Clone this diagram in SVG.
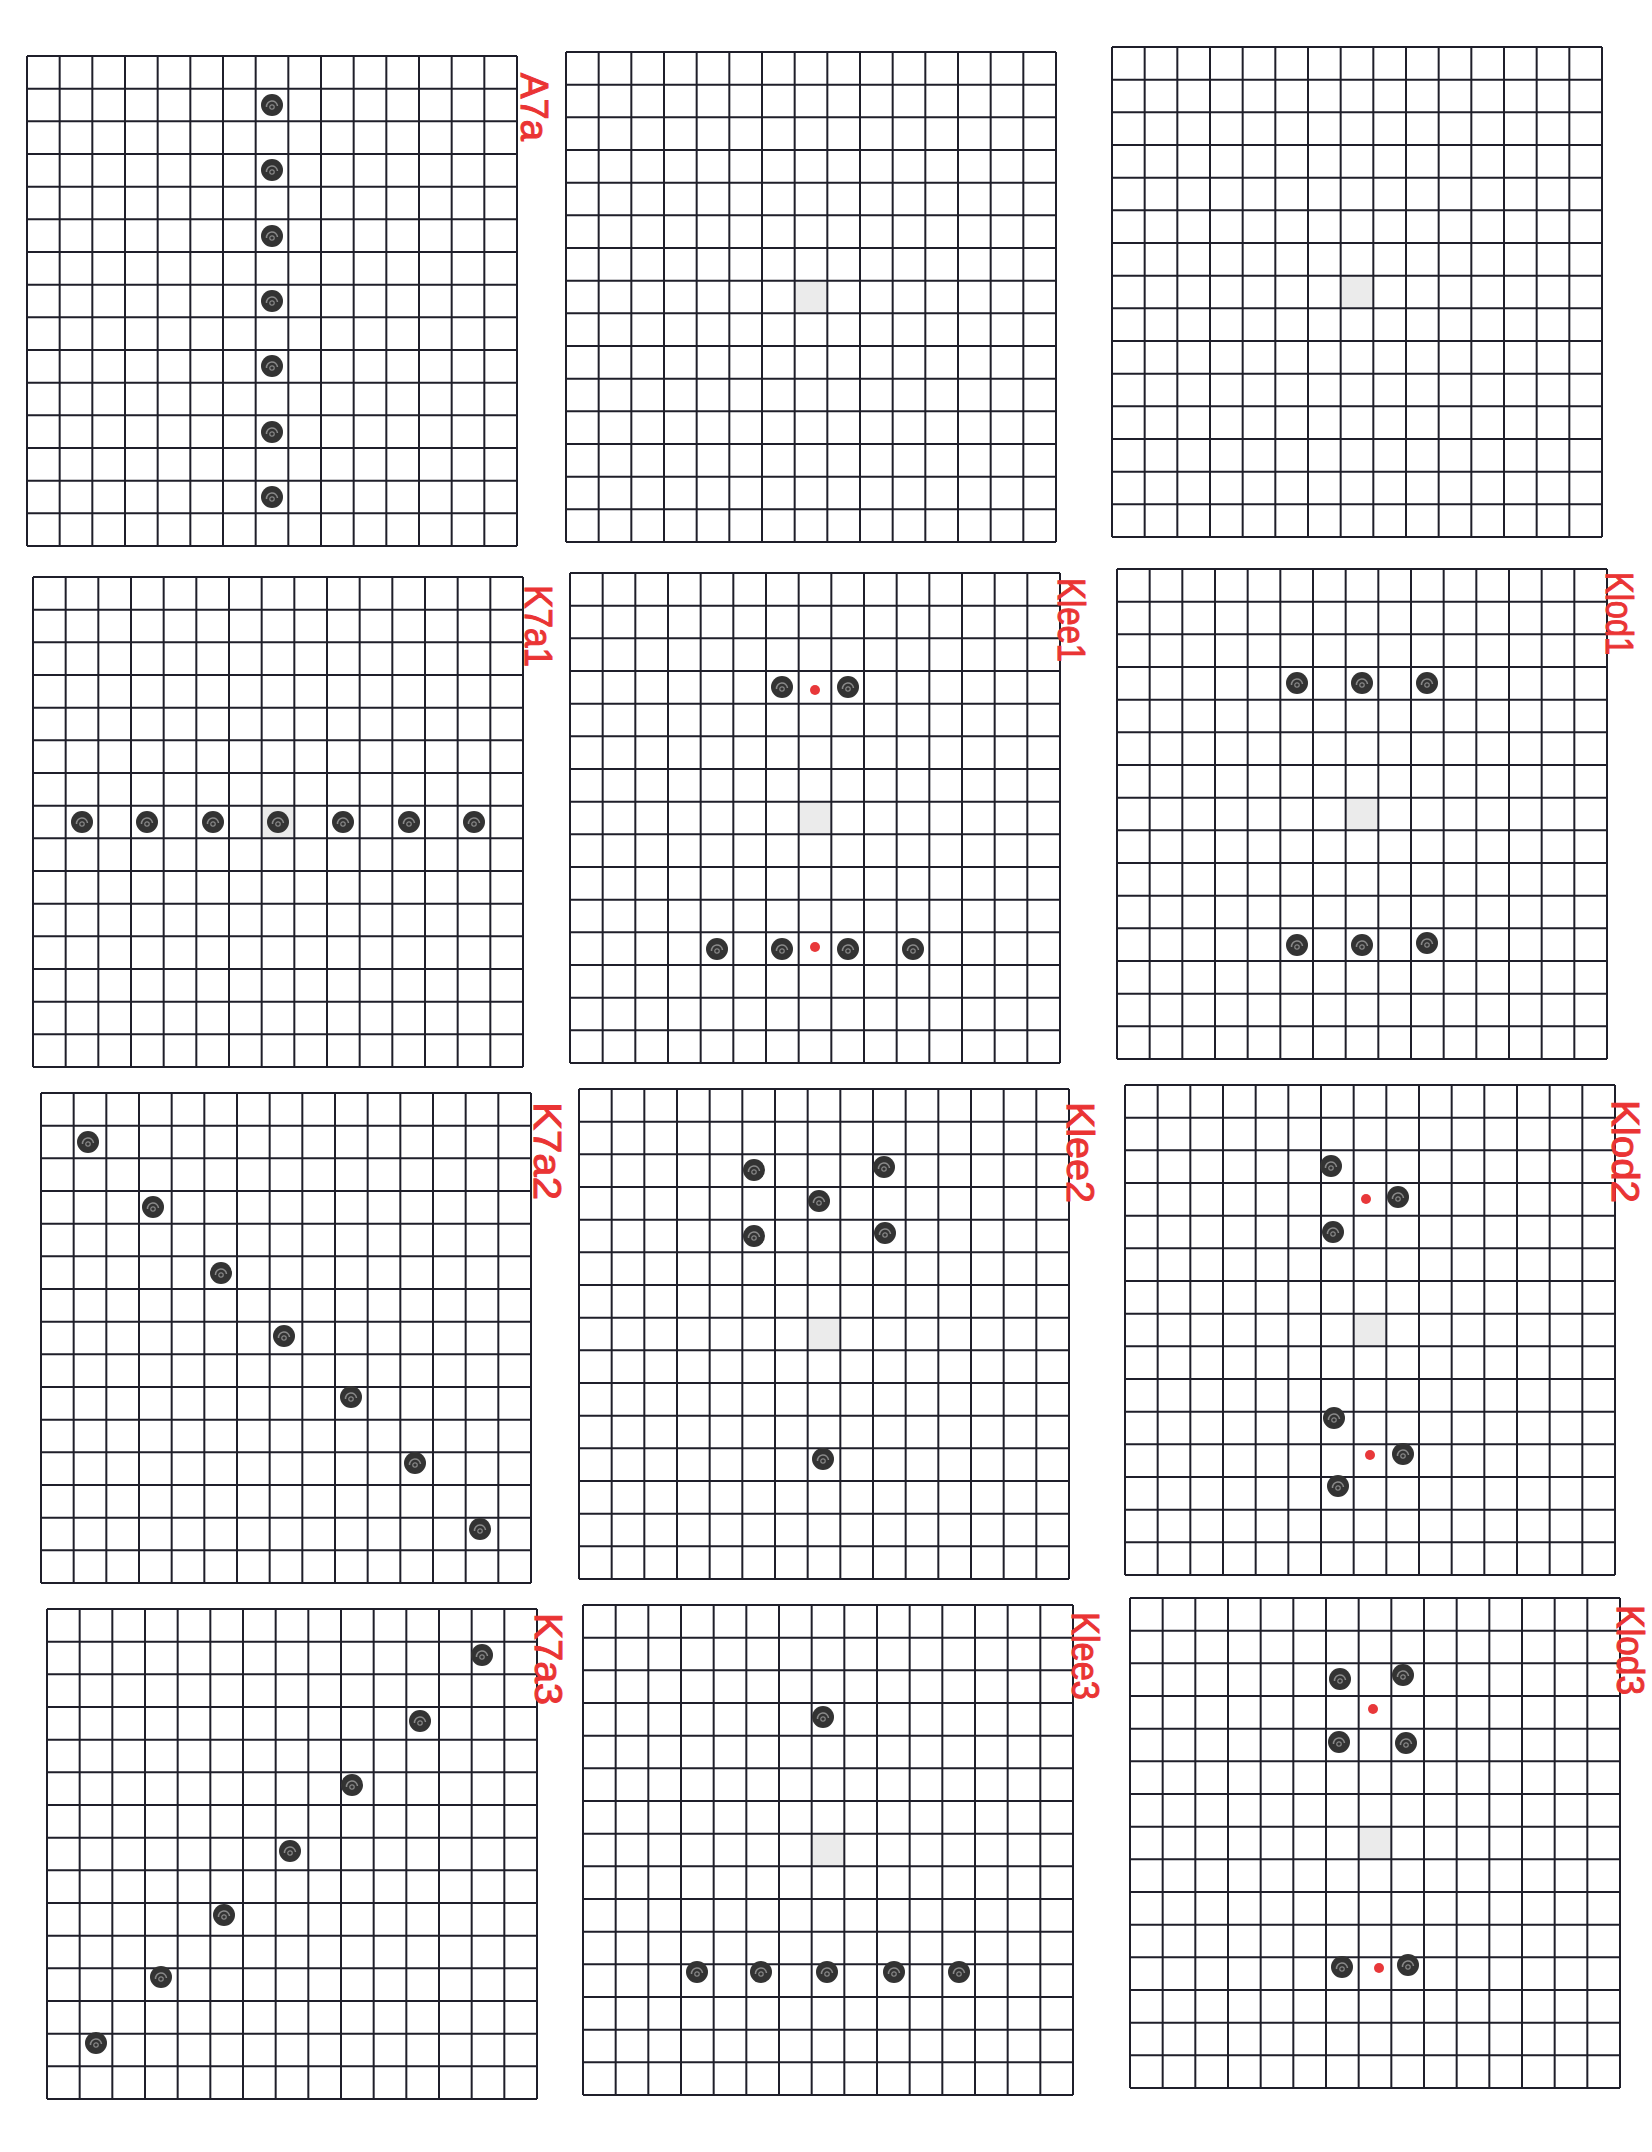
<svg xmlns="http://www.w3.org/2000/svg" xmlns:xlink="http://www.w3.org/1999/xlink" width="1652" height="2152" viewBox="0 0 1652 2152">
<style>
.gl{fill:none;stroke:#1f1f2a;stroke-width:2}
.gc{fill:#ebebeb}
.lbl{fill:#ea3434;stroke:#ea3434;stroke-width:1;font-family:"Liberation Sans",Arial,sans-serif;font-size:38px}
.rd{fill:#e8383a}
</style>
<defs>
<path id="grid" class="gl" d="M0,0H490M0,32.67H490M0,65.33H490M0,98H490M0,130.67H490M0,163.33H490M0,196H490M0,228.67H490M0,261.33H490M0,294H490M0,326.67H490M0,359.33H490M0,392H490M0,424.67H490M0,457.33H490M0,490H490M0,0V490M32.67,0V490M65.33,0V490M98,0V490M130.67,0V490M163.33,0V490M196,0V490M228.67,0V490M261.33,0V490M294,0V490M326.67,0V490M359.33,0V490M392,0V490M424.67,0V490M457.33,0V490M490,0V490"/>
<g id="dot"><circle r="11" fill="#333"/><path d="M-5.5,2 A5.5,5.5 0 1 1 5.5,1" fill="none" stroke="#8a8a8a" stroke-width="1.5"/><circle cx="0" cy="2" r="2.2" fill="none" stroke="#8a8a8a" stroke-width="1.2"/></g>
<rect id="gray" x="228.67" y="228.67" width="32.67" height="32.67" class="gc"/>
</defs>
<rect width="1652" height="2152" fill="#ffffff"/>

<g id="grid-A7a" transform="translate(27,56)">
<use href="#grid"/>
<use href="#dot" x="245" y="49"/><use href="#dot" x="245" y="114"/><use href="#dot" x="245" y="180"/><use href="#dot" x="245" y="245"/><use href="#dot" x="245" y="310"/><use href="#dot" x="245" y="376"/><use href="#dot" x="245" y="441"/>
<text class="lbl" transform="translate(494,17) rotate(90)" textLength="68" lengthAdjust="spacingAndGlyphs">A7a</text>
</g>

<g id="grid-empty-1" transform="translate(566,52)">
<use href="#gray"/><use href="#grid"/>
</g>

<g id="grid-empty-2" transform="translate(1112,47)">
<use href="#gray"/><use href="#grid"/>
</g>

<g id="grid-K7a1" transform="translate(33,577)">
<use href="#gray"/><use href="#grid"/>
<use href="#dot" x="49" y="245"/><use href="#dot" x="114" y="245"/><use href="#dot" x="180" y="245"/><use href="#dot" x="245" y="245"/><use href="#dot" x="310" y="245"/><use href="#dot" x="376" y="245"/><use href="#dot" x="441" y="245"/>
<text class="lbl" transform="translate(492,8) rotate(90)" textLength="82" lengthAdjust="spacingAndGlyphs">K7a1</text>
</g>

<g id="grid-Klee1" transform="translate(570,573)">
<use href="#gray"/><use href="#grid"/>
<use href="#dot" x="212" y="114"/><use href="#dot" x="278" y="114"/><circle class="rd" cx="245" cy="117" r="5"/>
<use href="#dot" x="147" y="376"/><use href="#dot" x="212" y="376"/><use href="#dot" x="278" y="376"/><use href="#dot" x="343" y="376"/><circle class="rd" cx="245" cy="374" r="5"/>
<text class="lbl" transform="translate(488,5) rotate(90)" textLength="84" lengthAdjust="spacingAndGlyphs">Klee1</text>
</g>

<g id="grid-Klod1" transform="translate(1117,569)">
<use href="#gray"/><use href="#grid"/>
<use href="#dot" x="180" y="114"/><use href="#dot" x="245" y="114"/><use href="#dot" x="310" y="114"/>
<use href="#dot" x="180" y="376"/><use href="#dot" x="245" y="376"/><use href="#dot" x="310" y="374"/>
<text class="lbl" transform="translate(489,3) rotate(90)" textLength="83" lengthAdjust="spacingAndGlyphs">Klod1</text>
</g>

<g id="grid-K7a2" transform="translate(41,1093)">
<use href="#grid"/>
<use href="#dot" x="47" y="49"/><use href="#dot" x="112" y="114"/><use href="#dot" x="180" y="180"/><use href="#dot" x="243" y="243"/><use href="#dot" x="310" y="304"/><use href="#dot" x="374" y="370"/><use href="#dot" x="439" y="436"/>
<text class="lbl" transform="translate(493,9) rotate(90)" textLength="98" lengthAdjust="spacingAndGlyphs">K7a2</text>
</g>

<g id="grid-Klee2" transform="translate(579,1089)">
<use href="#gray"/><use href="#grid"/>
<use href="#dot" x="175" y="81"/><use href="#dot" x="305" y="78"/><use href="#dot" x="240" y="112"/><use href="#dot" x="175" y="147"/><use href="#dot" x="306" y="144"/><use href="#dot" x="244" y="370"/>
<text class="lbl" transform="translate(488,13) rotate(90)" textLength="101" lengthAdjust="spacingAndGlyphs">Klee2</text>
</g>

<g id="grid-Klod2" transform="translate(1125,1085)">
<use href="#gray"/><use href="#grid"/>
<use href="#dot" x="206" y="81"/><use href="#dot" x="273" y="112"/><use href="#dot" x="208" y="147"/><circle class="rd" cx="241" cy="114" r="5"/>
<use href="#dot" x="209" y="333"/><use href="#dot" x="278" y="369"/><use href="#dot" x="213" y="401"/><circle class="rd" cx="245" cy="370" r="5"/>
<text class="lbl" transform="translate(487,15) rotate(90)" textLength="103" lengthAdjust="spacingAndGlyphs">Klod2</text>
</g>

<g id="grid-K7a3" transform="translate(47,1609)">
<use href="#grid"/>
<use href="#dot" x="435" y="46"/><use href="#dot" x="373" y="112"/><use href="#dot" x="305" y="176"/><use href="#dot" x="243" y="242"/><use href="#dot" x="177" y="306"/><use href="#dot" x="114" y="368"/><use href="#dot" x="49" y="434"/>
<text class="lbl" transform="translate(488,4) rotate(90)" textLength="92" lengthAdjust="spacingAndGlyphs">K7a3</text>
</g>

<g id="grid-Klee3" transform="translate(583,1605)">
<use href="#gray"/><use href="#grid"/>
<use href="#dot" x="240" y="112"/>
<use href="#dot" x="114" y="367"/><use href="#dot" x="178" y="367"/><use href="#dot" x="244" y="367"/><use href="#dot" x="311" y="367"/><use href="#dot" x="376" y="367"/>
<text class="lbl" transform="translate(489,7) rotate(90)" textLength="88" lengthAdjust="spacingAndGlyphs">Klee3</text>
</g>

<g id="grid-Klod3" transform="translate(1130,1598)">
<use href="#gray"/><use href="#grid"/>
<use href="#dot" x="210" y="81"/><use href="#dot" x="273" y="77"/><use href="#dot" x="209" y="144"/><use href="#dot" x="276" y="145"/><circle class="rd" cx="243" cy="111" r="5"/>
<use href="#dot" x="212" y="369"/><use href="#dot" x="278" y="367"/><circle class="rd" cx="249" cy="370" r="5"/>
<text class="lbl" transform="translate(487,7) rotate(90)" textLength="90" lengthAdjust="spacingAndGlyphs">Klod3</text>
</g>
</svg>
